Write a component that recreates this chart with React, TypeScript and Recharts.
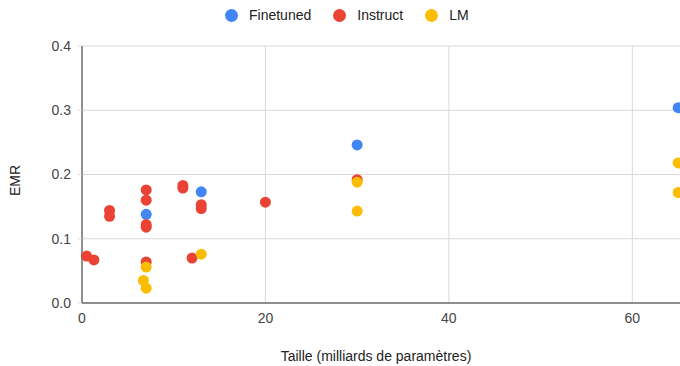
import React from "react";
import { ScatterChart, Scatter, XAxis, YAxis, CartesianGrid } from "recharts";

const finetunedX = [7, 13, 30, 65];
const finetunedY = [0.138, 0.173, 0.246, 0.304];

const instructX = [0.5, 1.3, 3, 3, 7, 7, 7, 7, 7, 11, 11, 13, 13, 12, 20, 30];
const instructY = [0.073, 0.067, 0.144, 0.135, 0.176, 0.16, 0.122, 0.118, 0.064, 0.183, 0.179, 0.153, 0.147, 0.07, 0.157, 0.192];

const lmX = [7, 6.7, 7, 13, 30, 30, 65, 65];
const lmY = [0.056, 0.035, 0.023, 0.076, 0.188, 0.143, 0.218, 0.172];

const xTicks = [0, 20, 40, 60];
const yTicks = [0, 0.1, 0.2, 0.3, 0.4];

const seriesNames = ["Finetuned", "Instruct", "LM"];
const colors = ["#4285F4", "#EA4335", "#FBBC04"];

const FONT = "'Liberation Sans', Arial, sans-serif";

const zip = (xs: number[], ys: number[]) => xs.map((x, i) => ({ x, y: ys[i] }));
const datasets = [zip(finetunedX, finetunedY), zip(instructX, instructY), zip(lmX, lmY)];

const dotShape = (color: string) => (props: any) => (
  <circle cx={props.cx} cy={props.cy} r={5.5} fill={color} />
);

export default function App() {
  return (
    <div style={{ position: "absolute", left: 0, top: 0, width: 680, height: 366, overflow: "hidden", background: "#fff", fontFamily: FONT }}>
      <div style={{ position: "absolute", left: 225, top: 6, height: 18, display: "flex", alignItems: "center", fontSize: 14, color: "#222" }}>
        {seriesNames.map((n, i) => (
          <div key={n} style={{ display: "flex", alignItems: "center", marginRight: 22 }}>
            <span style={{ width: 13, height: 13, borderRadius: "50%", background: colors[i], display: "inline-block", marginRight: 11 }} />
            <span>{n}</span>
          </div>
        ))}
      </div>
      <ScatterChart width={680} height={366} margin={{ top: 46, right: 0, bottom: 0, left: 0 }}>
        <CartesianGrid stroke="#d9d9d9" strokeWidth={1} horizontalValues={yTicks} verticalValues={xTicks} />
        <XAxis
          type="number"
          dataKey="x"
          domain={[0, 65.2]}
          ticks={xTicks}
          height={63}
          tickLine={false}
          tickSize={0}
          tickMargin={10}
          axisLine={{ stroke: "#333" }}
          tick={{ fill: "#444", fontSize: 14, fontFamily: FONT }}
          label={{
            content: (p: any) => {
              const vb = p.viewBox;
              return (
                <text x={vb.x + vb.width / 2 - 5} y={vb.y + 53} textAnchor="middle" dominantBaseline="central" fill="#222" fontSize={14} fontFamily={FONT}>
                  Taille (milliards de paramètres)
                </text>
              );
            },
          }}
        />
        <YAxis
          type="number"
          dataKey="y"
          domain={[0, 0.4]}
          ticks={yTicks}
          width={82}
          tickSize={4}
          tickMargin={7}
          tickLine={{ stroke: "#d9d9d9" }}
          axisLine={{ stroke: "#333" }}
          tickFormatter={(v: number) => v.toFixed(1)}
          tick={{ fill: "#444", fontSize: 14, fontFamily: FONT }}
          label={{
            content: (p: any) => {
              const vb = p.viewBox;
              const cx = 15;
              const cy = vb.y + vb.height / 2 + 6;
              return (
                <text x={cx} y={cy} transform={`rotate(-90 ${cx} ${cy})`} textAnchor="middle" dominantBaseline="central" fill="#222" fontSize={14} fontFamily={FONT}>
                  EMR
                </text>
              );
            },
          }}
        />
        {datasets.map((d, i) => (
          <Scatter key={seriesNames[i]} name={seriesNames[i]} data={d} fill={colors[i]} shape={dotShape(colors[i])} isAnimationActive={false} />
        ))}
      </ScatterChart>
    </div>
  );
}
